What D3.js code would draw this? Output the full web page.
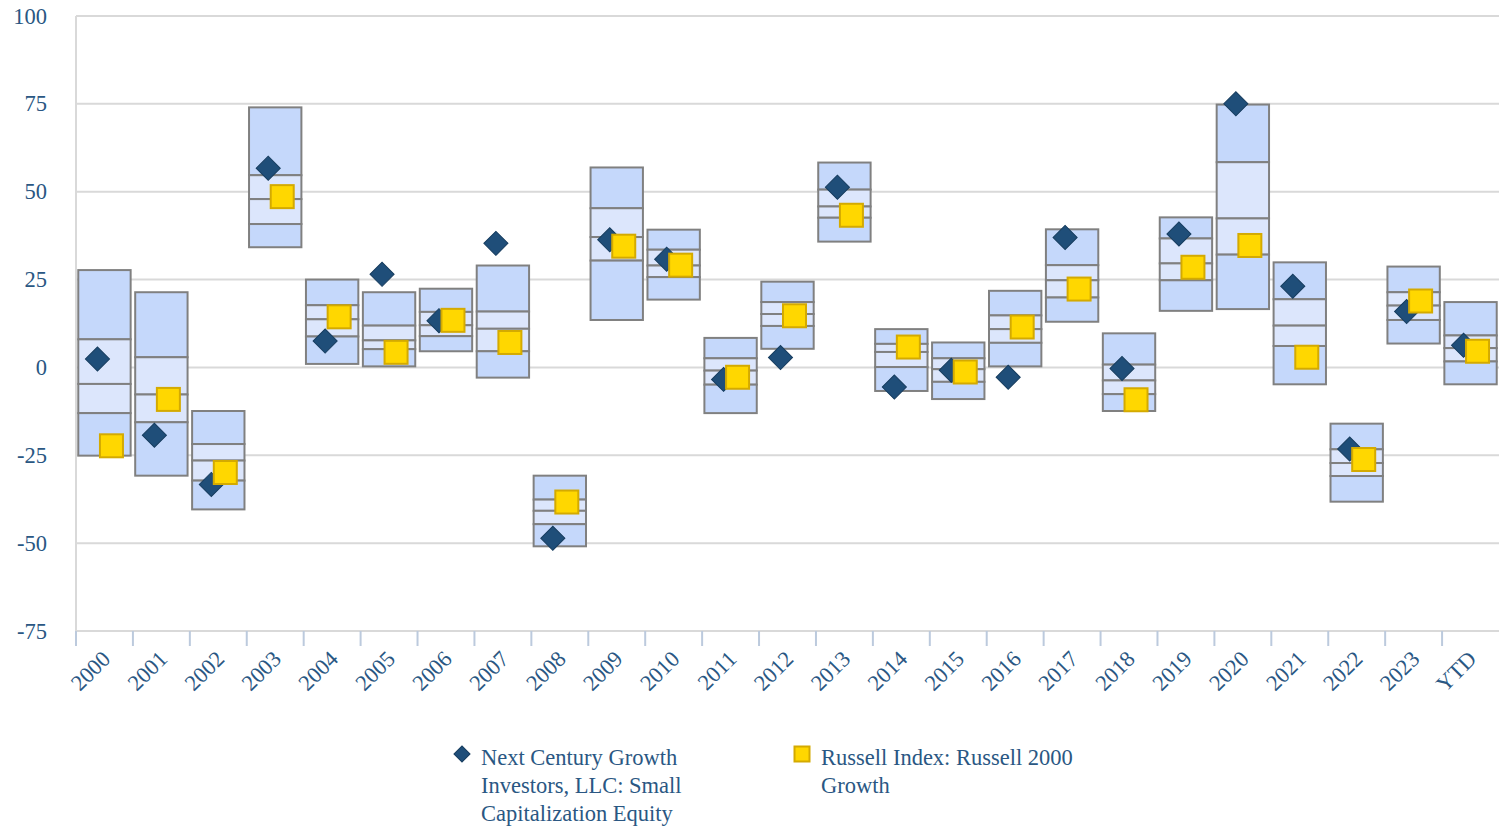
<!DOCTYPE html>
<html>
<head>
<meta charset="utf-8">
<script src="https://cdn.jsdelivr.net/npm/d3@7"></script>
<style>
	body { margin: 0; background: #fff; }
	svg text { font-family: "Liberation Serif", "Times New Roman", serif; fill: #2a5783; }
</style>
</head>
<body>
<svg id="chart" width="1499" height="826"></svg>
<script>
// categories and values
var years = ["2000", "2001", "2002", "2003", "2004", "2005", "2006", "2007", "2008", "2009", "2010", "2011", "2012",
	"2013", "2014", "2015", "2016", "2017", "2018", "2019", "2020", "2021", "2022", "2023", "YTD"];

// peer group percentiles: 5th, 25th, median, 75th, 95th
var p05 = [27.7, 21.4, -12.4, 74.0, 25.0, 21.4, 22.4, 29.0, -30.8, 56.9, 39.2, 8.4, 24.4, 58.3, 10.9, 7.1, 21.8, 39.3, 9.7, 42.7, 74.8, 29.9, -16.0, 28.7, 18.6];
var p25 = [8.0, 2.9, -21.8, 54.7, 17.7, 11.9, 15.8, 15.9, -37.6, 45.3, 33.5, 2.6, 18.6, 50.6, 6.7, 2.6, 14.8, 29.1, 0.8, 36.7, 58.4, 19.4, -23.3, 21.4, 9.1];
var p50 = [-4.7, -7.7, -26.5, 47.9, 13.7, 7.7, 12.0, 11.0, -40.8, 37.1, 29.0, -0.9, 15.2, 45.8, 4.4, -0.5, 10.9, 24.8, -3.7, 29.6, 42.4, 11.9, -27.2, 17.6, 5.5];
var p75 = [-13.0, -15.6, -32.2, 40.8, 8.8, 5.2, 8.9, 4.6, -44.6, 30.4, 25.7, -4.9, 11.8, 42.6, 0.1, -4.1, 7.0, 19.9, -7.6, 24.8, 32.1, 6.1, -30.9, 13.5, 1.7];
var p95 = [-25.1, -30.8, -40.4, 34.2, 1.0, 0.3, 4.6, -2.9, -50.9, 13.5, 19.3, -13.0, 5.3, 35.8, -6.7, -9.0, 0.3, 13.0, -12.4, 16.1, 16.6, -4.8, -38.2, 6.8, -4.8];

var fund = [2.4, -19.3, -33.3, 56.7, 7.5, 26.5, 13.3, 35.3, -48.6, 36.3, 30.8, -3.4, 2.8, 51.3, -5.6, -0.8, -2.8, 37.0, -0.3, 38.0, 75.0, 23.1, -23.2, 15.9, 6.3];
var index = [-22.3, -9.1, -29.9, 48.6, 14.4, 4.3, 13.4, 7.1, -38.3, 34.5, 29.1, -2.8, 14.7, 43.3, 5.8, -1.3, 11.5, 22.3, -9.2, 28.5, 34.7, 2.9, -26.2, 18.9, 4.6];

var yTicks = [100, 75, 50, 25, 0, -25, -50, -75];
var legendItems = [
	{ lines: ["Next Century Growth", "Investors, LLC: Small", "Capitalization Equity"], shape: "diamond" },
	{ lines: ["Russell Index: Russell 2000", "Growth"], shape: "square" }
];

var svg = d3.select("#chart");
var plotLeft = 76, plotRight = 1499, plotTop = 16, plotBottom = 631;
var fontSize = 22.5;

var x = d3.scaleBand().domain(years).range([plotLeft, plotRight]).padding(0);
var y = d3.scaleLinear().domain([-75, 100]).range([plotBottom, plotTop]);
var bw = x.bandwidth();

//Grid lines
svg.append("g").selectAll("line").data(yTicks).enter().append("line")
	.attr("x1", plotLeft).attr("x2", plotRight)
	.attr("y1", d=>y(d)).attr("y2", d=>y(d))
	.attr("stroke", "#d9d9d9").attr("stroke-width", 2);

svg.append("line")
	.attr("x1", plotLeft).attr("x2", plotLeft).attr("y1", plotTop).attr("y2", plotBottom)
	.attr("stroke", "#d9d9d9").attr("stroke-width", 2);

//Y labels
svg.append("g").selectAll("text").data(yTicks).enter().append("text")
	.attr("x", 47).attr("y", d=>y(d))
	.attr("text-anchor", "end").attr("dominant-baseline", "central")
	.attr("font-size", fontSize)
	.text(d=>d);

//X ticks and labels
var tickPos = years.map(d=>x(d));
svg.append("g").selectAll("line").data(tickPos).enter().append("line")
	.attr("x1", d=>d).attr("x2", d=>d).attr("y1", plotBottom).attr("y2", plotBottom + 15)
	.attr("stroke", "#bccadd").attr("stroke-width", 2);

svg.append("g").selectAll("text").data(years).enter().append("text")
	.attr("transform", d=>"translate(" + (x(d) + bw / 2 + 2) + "," + (plotBottom + 24) + ") rotate(-45)")
	.attr("text-anchor", "end").attr("dominant-baseline", "central")
	.attr("font-size", fontSize)
	.text(d=>d);

//Percentile boxes
var rows = years.map((d, i)=>({ year: d, p: [p05[i], p25[i], p50[i], p75[i], p95[i]], fund: fund[i], index: index[i] }));
var boxW = bw * 0.92;
var boxes = svg.append("g").selectAll("g").data(rows).enter().append("g")
	.attr("transform", d=>"translate(" + (x(d.year) + (bw - boxW) / 2) + ",0)");

[0, 1, 2, 3].forEach(function(k) {
	boxes.append("rect")
		.attr("x", 0).attr("width", boxW)
		.attr("y", d=>y(d.p[k]))
		.attr("height", d=>y(d.p[k + 1]) - y(d.p[k]))
		.attr("fill", (k == 0 || k == 3) ? "#c5d8fb" : "#dce6fc")
		.attr("stroke", "#808080").attr("stroke-width", 2);
});

//Markers
var diamondSym = d3.symbol().type(d3.symbolSquare).size(290);
boxes.append("path")
	.attr("d", diamondSym)
	.attr("transform", d=>"translate(" + (boxW / 2 - 7) + "," + y(d.fund) + ") rotate(45)")
	.attr("fill", "#1f4e79").attr("stroke", "#173d5f").attr("stroke-width", 1);

boxes.append("rect")
	.attr("x", boxW / 2 + 7 - 11.5).attr("width", 23)
	.attr("y", d=>y(d.index) - 11.5).attr("height", 23)
	.attr("fill", "#ffd700").attr("stroke", "#d4aa00").attr("stroke-width", 2);

//Legend
var legendX = [462, 802];
var legend = svg.append("g").selectAll("g").data(legendItems).enter().append("g")
	.attr("transform", (d, i)=>"translate(" + legendX[i] + ",754)");

legend.each(function(d) {
	var g = d3.select(this);
	if (d.shape == "diamond") {
		g.append("path").attr("d", d3.symbol().type(d3.symbolSquare).size(130))
			.attr("transform", "rotate(45)")
			.attr("fill", "#1f4e79").attr("stroke", "#173d5f");
	} else {
		g.append("rect").attr("x", -7.5).attr("y", -7.5).attr("width", 15).attr("height", 15)
			.attr("fill", "#ffd700").attr("stroke", "#d4aa00").attr("stroke-width", 2);
	}
	g.selectAll("text").data(d.lines).enter().append("text")
		.attr("x", 19).attr("y", (t, j)=>3 + j * 28)
		.attr("dominant-baseline", "central")
		.attr("font-size", fontSize)
		.text(t=>t);
});
</script>
</body>
</html>
